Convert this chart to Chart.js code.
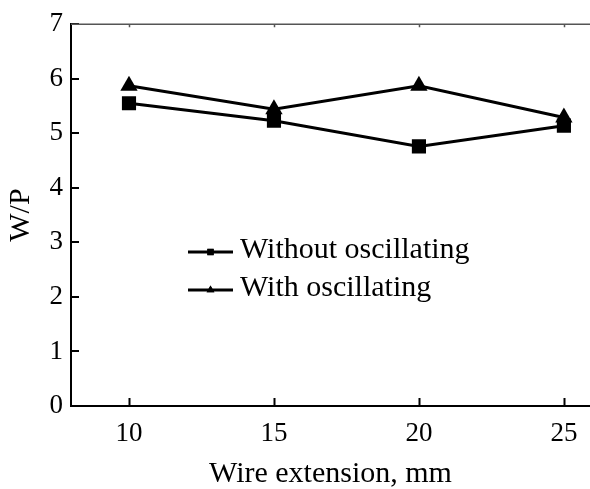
<!DOCTYPE html>
<html>
<head>
<meta charset="utf-8">
<script src="https://cdn.jsdelivr.net/npm/chart.js@4/dist/chart.umd.min.js"></script>
<style>
  html, body { margin: 0; padding: 0; background: #fff; overflow: hidden; }
  #wrap { width: 600px; height: 489px; position: relative; }
</style>
</head>
<body>
<div id="wrap"><canvas id="wpChart"></canvas></div>
<script>
const wireExtension = [10, 15, 20, 25];
const withoutOsc = [5.55, 5.23, 4.76, 5.14];
const withOsc = [5.87, 5.44, 5.87, 5.29];
const yTicks = [0, 1, 2, 3, 4, 5, 6, 7];
const seriesNames = ['Without oscillating', 'With oscillating'];

const serif = "'Liberation Serif', 'Times New Roman', serif";

// inward ticks, top frame line and the little legend in the plot
const framePlugin = {
  id: 'frame',
  afterDraw(chart) {
    const ctx = chart.ctx;
    const area = chart.chartArea;
    const xs = chart.scales.x;
    const ys = chart.scales.y;
    ctx.save();
    ctx.strokeStyle = '#000';
    ctx.lineWidth = 2;
    ctx.beginPath();
    wireExtension.forEach(v => {
      const px = Math.round(xs.getPixelForValue(v)) + 0.5;
      ctx.moveTo(px, area.bottom);
      ctx.lineTo(px, area.bottom - 8);
    });
    yTicks.forEach(v => {
      const py = Math.round(ys.getPixelForValue(v));
      ctx.moveTo(area.left, py);
      ctx.lineTo(area.left + 8, py);
    });
    ctx.stroke();

    ctx.strokeStyle = '#555';
    ctx.lineWidth = 1.5;
    ctx.beginPath();
    ctx.moveTo(area.left, area.top);
    ctx.lineTo(area.right, area.top);
    wireExtension.forEach(v => {
      const px = Math.round(xs.getPixelForValue(v)) + 0.5;
      ctx.moveTo(px, area.top);
      ctx.lineTo(px, area.top + 3);
    });
    ctx.stroke();

    // legend
    const rows = [252, 290];
    chart.data.datasets.forEach((ds, i) => {
      const y = rows[i];
      ctx.strokeStyle = '#000';
      ctx.lineWidth = 3;
      ctx.beginPath();
      ctx.moveTo(188, y);
      ctx.lineTo(233, y);
      ctx.stroke();
      ctx.fillStyle = '#000';
      Chart.helpers.drawPoint(ctx, { pointStyle: ds.pointStyle, radius: 4.5, rotation: 0, borderWidth: 0 }, 210.5, y);
      ctx.fill();
      ctx.font = '30px ' + serif;
      ctx.textBaseline = 'middle';
      ctx.textAlign = 'left';
      ctx.fillText(ds.label, 240, y - 2);
    });
    ctx.restore();
  }
};

const ctx = document.getElementById('wpChart').getContext('2d');
const wpChart = new Chart(ctx, {
  type: 'line',
  data: {
    datasets: [{
      label: seriesNames[0],
      data: wireExtension.map((x, i) => ({ x: x, y: withoutOsc[i] })),
      borderColor: '#000',
      backgroundColor: '#000',
      borderWidth: 3,
      pointStyle: 'rect',
      pointRadius: 10,
      pointBorderWidth: 0
    }, {
      label: seriesNames[1],
      data: wireExtension.map((x, i) => ({ x: x, y: withOsc[i] })),
      borderColor: '#000',
      backgroundColor: '#000',
      borderWidth: 3,
      pointStyle: 'triangle',
      pointRadius: 10,
      pointBorderWidth: 0
    }]
  },
  options: {
    responsive: true,
    maintainAspectRatio: false,
    animation: false,
    layout: { padding: { top: 23, right: 0, left: 0, bottom: 0 } },
    plugins: {
      legend: { display: false },
      tooltip: { enabled: false }
    },
    scales: {
      x: {
        type: 'linear',
        min: 8,
        max: 25.9,
        afterBuildTicks: axis => { axis.ticks = wireExtension.map(v => ({ value: v })); },
        afterFit: axis => { axis.height = 83; },
        grid: { display: false, drawTicks: false },
        border: { display: true, color: '#000', width: 2 },
        ticks: {
          color: '#000',
          padding: 12,
          maxRotation: 0,
          font: { family: serif, size: 27 }
        },
        title: {
          display: true,
          text: 'Wire extension, mm',
          color: '#000',
          font: { family: serif, size: 30 },
          padding: { top: 0, bottom: -3 }
        }
      },
      y: {
        min: 0,
        max: 7,
        afterBuildTicks: axis => { axis.ticks = yTicks.map(v => ({ value: v })); },
        afterFit: axis => { axis.width = 71; },
        grid: { display: false, drawTicks: false },
        border: { display: true, color: '#000', width: 2 },
        ticks: {
          color: '#000',
          padding: 8,
          font: { family: serif, size: 27 }
        },
        title: {
          display: true,
          text: 'W/P',
          color: '#000',
          font: { family: serif, size: 30 },
          padding: { top: 3, bottom: 0 }
        }
      }
    }
  },
  plugins: [framePlugin]
});
</script>
</body>
</html>
